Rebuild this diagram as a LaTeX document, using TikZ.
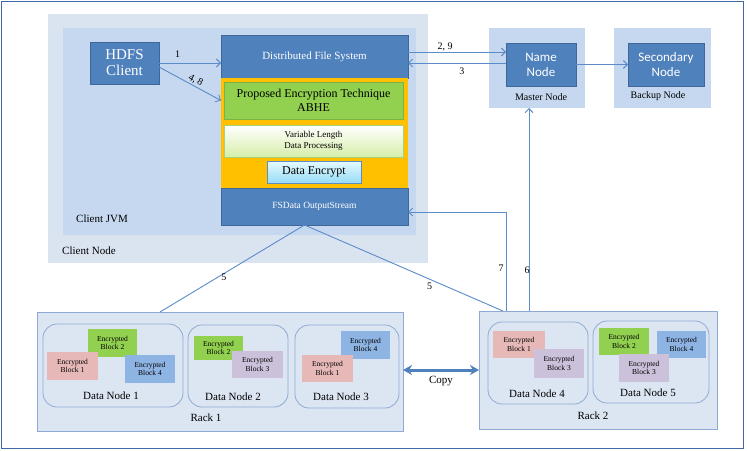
\documentclass[tikz,border=0pt]{standalone}
\usepackage{fontspec}
\setmainfont{Liberation Serif}
\newfontfamily\calib{Carlito}
\usetikzlibrary{arrows.meta,shadows}
\definecolor{obl}{HTML}{4F81BD}
\definecolor{lnc}{HTML}{5B8BC9}
\definecolor{cnode}{HTML}{DAE4F1}
\definecolor{cjvm}{HTML}{C6D8F0}
\definecolor{orng}{HTML}{FFC000}
\definecolor{grn}{HTML}{92D050}
\definecolor{pnk}{HTML}{E6B9B8}
\definecolor{prp}{HTML}{CCC1DA}
\definecolor{bblk}{HTML}{8EB4E3}
\definecolor{rackf}{HTML}{DCE6F2}
\definecolor{rackd}{HTML}{8EAAD4}
\definecolor{frame}{HTML}{3E68A6}
\tikzset{
  rbox/.style={inner sep=0pt, outer sep=0pt, anchor=center},
  darkbox/.style={rbox, fill=obl, draw=obl!80!black, line width=0.5pt, text=white},
  area/.style={rbox, draw=none},
  block/.style={rbox, minimum width=50pt, minimum height=28pt, align=center, font=\fontsize{7.5}{8.5}\selectfont},
  dnode/.style={rbox, draw=rackd, line width=0.8pt, rounded corners=14pt},
  rack/.style={rbox, fill=rackf, draw=rackd, line width=0.9pt},
  conn/.style={draw=lnc, line width=0.9pt},
  arr/.style={conn, -{Straight Barb[length=4pt,width=8pt]}},
  lbl/.style={inner sep=0pt, font=\fontsize{10}{12}\selectfont},
  txt/.style={inner sep=0pt, font=\fontsize{11}{13}\selectfont},
  shd/.style={drop shadow={shadow xshift=1pt, shadow yshift=-1.2pt, opacity=0.35, fill=black!60}}
}
\begin{document}
\begin{tikzpicture}[x=1pt,y=-1pt]
\useasboundingbox (0,0) rectangle (747,450);
\fill[white] (0,0) rectangle (747,450);
\draw[frame, line width=1.3pt] (1.5,1.5) rectangle (743.5,448.5);

% client node
\node[area, fill=cnode, minimum width=380pt, minimum height=249pt] (clientnode) at (238,138.5) {};
\node[area, fill=cjvm, minimum width=353pt, minimum height=207pt] (jvm) at (239.5,131.5) {};
\node[txt, anchor=west] (jvmlbl) at (76,219) {Client JVM};
\node[txt, anchor=west] (cnlbl) at (62,251) {Client Node};

\node[darkbox, minimum width=69pt, minimum height=42pt, align=center, font=\fontsize{15}{16}\selectfont] (hdfs) at (124.5,63) {HDFS\\Client};

\node[darkbox, minimum width=187pt, minimum height=43pt, font=\fontsize{11}{13}\selectfont] (dfs) at (314.5,56.5) {Distributed File System};
\node[rbox, fill=orng, minimum width=187pt, minimum height=110pt] (orange) at (314.5,133) {};
\node[darkbox, minimum width=187pt, minimum height=37pt, font=\fontsize{9.5}{11}\selectfont] (fsdata) at (314.5,206.5) {FSData OutputStream};

\node[rbox, fill=grn, draw=grn!85!black, line width=0.4pt, shd, minimum width=179pt, minimum height=37pt, align=center, font=\fontsize{12}{13.5}\selectfont] (abhe) at (313.5,100.5) {Proposed Encryption Technique\\ABHE};
\node[rbox, top color=white, bottom color={rgb,255:red,214;green,238;blue,170}, draw={rgb,255:red,170;green,208;blue,120}, line width=0.6pt, shd, minimum width=179pt, minimum height=32pt, align=center, font=\fontsize{9}{11}\selectfont] (varlen) at (313.5,141) {Variable Length\\Data Processing};
\node[rbox, top color={rgb,255:red,230;green,250;blue,255}, bottom color={rgb,255:red,150;green,220;blue,245}, draw=lnc, line width=0.8pt, shd, minimum width=94pt, minimum height=22pt, font=\fontsize{12}{13}\selectfont] (encrypt) at (314,172) {Data Encrypt};

% master and backup
\node[area, fill=cjvm, minimum width=96pt, minimum height=80pt] (master) at (537,68) {};
\node[darkbox, minimum width=70pt, minimum height=43pt, align=center, font=\calib\fontsize{13}{15}\selectfont] (namenode) at (541,64.5) {Name\\Node};
\node[lbl] (masterlbl) at (541,97) {Master Node};
\node[area, fill=cjvm, minimum width=97pt, minimum height=80pt] (backup) at (662.5,68) {};
\node[darkbox, minimum width=76pt, minimum height=43pt, align=center, font=\calib\fontsize{13}{15}\selectfont] (secondary) at (666,64.5) {Secondary\\Node};
\node[lbl] (backuplbl) at (658,96) {Backup Node};

% rack 1
\node[rack, minimum width=366pt, minimum height=119pt] (rack1) at (220,371.5) {};
\node[dnode, minimum width=140pt, minimum height=83pt] (dn1) at (113,365.5) {};
\node[dnode, minimum width=100pt, minimum height=82pt] (dn2) at (238,366) {};
\node[dnode, minimum width=104pt, minimum height=83pt] (dn3) at (347,366.5) {};
\node[txt] (dn1lbl) at (111,396) {Data Node 1};
\node[txt] (dn2lbl) at (233,397) {Data Node 2};
\node[txt] (dn3lbl) at (341,397) {Data Node 3};
\node[txt] (rack1lbl) at (206,418) {Rack 1};
\node[block, fill=grn, minimum width=49pt] (b12) at (112.5,343) {Encrypted\\Block 2};
\node[block, fill=pnk, minimum width=51pt] (b11) at (72.5,366) {Encrypted\\Block 1};
\node[block, fill=bblk] (b14) at (150,369) {Encrypted\\Block 4};
\node[block, fill=grn, minimum width=49pt, minimum height=24pt] (b22) at (218.5,348) {Encrypted\\Block 2};
\node[block, fill=prp, minimum width=51pt, minimum height=27pt] (b23) at (257.5,364.5) {Encrypted\\Block 3};
\node[block, fill=bblk, minimum width=49pt] (b34) at (365.5,345) {Encrypted\\Block 4};
\node[block, fill=pnk, minimum width=51pt, minimum height=27pt] (b31) at (327.5,368.5) {Encrypted\\Block 1};

% rack 2
\node[rack, minimum width=238pt, minimum height=118pt] (rack2) at (598,370) {};
\node[dnode, minimum width=100pt, minimum height=82pt] (dn4) at (538,363) {};
\node[dnode, minimum width=116pt, minimum height=82pt] (dn5) at (651,362) {};
\node[txt] (dn4lbl) at (537,394) {Data Node 4};
\node[txt] (dn5lbl) at (648,393) {Data Node 5};
\node[txt] (rack2lbl) at (593,416) {Rack 2};
\node[block, fill=pnk, minimum width=52pt, minimum height=27pt] (b41) at (519,344.5) {Encrypted\\Block 1};
\node[block, fill=prp, minimum height=29pt] (b43) at (559,363.5) {Encrypted\\Block 3};
\node[block, fill=grn, minimum height=27pt] (b52) at (624,341.5) {Encrypted\\Block 2};
\node[block, fill=bblk, minimum width=49pt, minimum height=27pt] (b54) at (681.5,344.5) {Encrypted\\Block 4};
\node[block, fill=prp] (b53) at (644,368) {Encrypted\\Block 3};

% connectors
\coordinate (h48) at ([yshift=-4pt]hdfs.east);
\coordinate (t48) at (orange.west |- abhe.west);
\coordinate (a29) at ([yshift=4.5pt]dfs.east);
\coordinate (a3) at ([yshift=-6.5pt]dfs.east);
\coordinate (x6) at (529,0);
\coordinate (x7) at (506,0);
\coordinate (f7) at ([yshift=-5.5pt]fsdata.east);
\coordinate (f5) at ([xshift=-10pt]fsdata.south);
\coordinate (r15) at (160,0);
\coordinate (r25) at (503,0);

\draw[arr] (hdfs.east) -- (hdfs.east -| dfs.west) node[lbl, pos=0.3, above=5pt] (l1) {1};
\draw[arr] (h48) -- (t48) node[lbl, pos=0.55, above=1pt, sloped] (l48) {4, 8};
\draw[arr] (a29) -- (a29 -| namenode.west) node[lbl, pos=0.38, above=1pt] (l29) {2, 9};
\draw[arr] (a3 -| namenode.west) -- (a3) node[lbl, pos=0.45, below=4pt] (l3) {3};
\draw[arr] (namenode.east) -- (secondary.west);
\draw[arr] (x6 |- rack2.north) -- (x6 |- master.south) node[lbl, pos=0.2, left=-1pt] (l6) {6};
\draw[arr] (x7 |- rack2.north) -- (x7 |- f7) -- (f7) node[lbl, pos=0.0, xshift=-5pt, yshift=-56pt] (l7) {7};
\draw[conn] (f5) -- (r15 |- rack1.north) node[lbl, pos=0.6, right=3pt] (l5a) {5};
\draw[conn] (f5) -- (r25 |- rack2.north) node[lbl, pos=0.63, below=3pt] (l5b) {5};
\draw[draw=obl, line width=3pt, {Stealth[length=9pt,width=10pt]}-{Stealth[length=9pt,width=10pt]}] (rack1.east |- rack2.west) -- (rack2.west) node[lbl, midway, below=5pt, font=\fontsize{11}{13}\selectfont] (lcopy) {Copy};
\end{tikzpicture}
\end{document}
